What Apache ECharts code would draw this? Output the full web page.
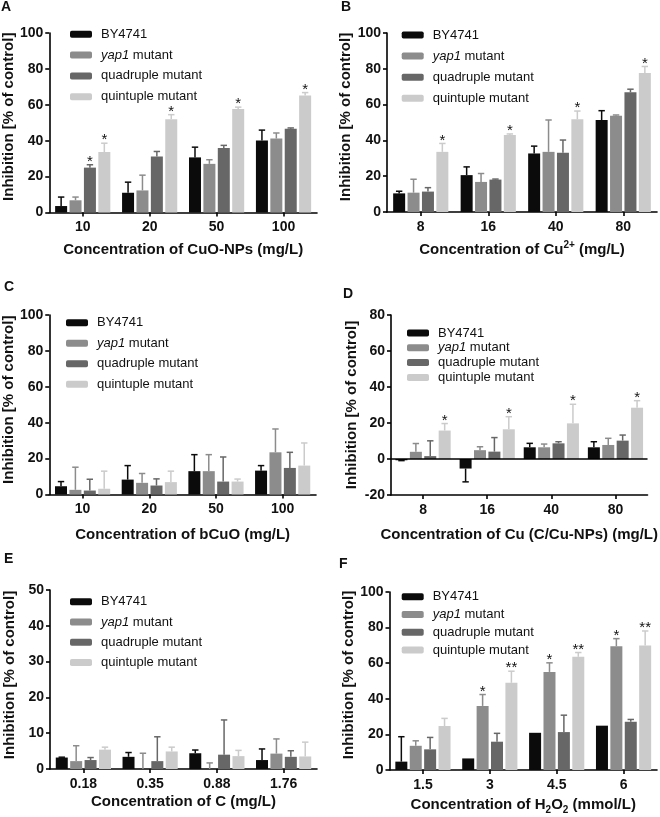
<!DOCTYPE html>
<html><head><meta charset="utf-8">
<script src="https://cdn.jsdelivr.net/npm/echarts@6/dist/echarts.min.js"></script>
<style>html,body{margin:0;padding:0;background:#fff}#c{width:660px;height:817px}</style>
</head><body><div id="c"></div>
<script>
const FONT = '"Liberation Sans", Arial, sans-serif';
const seriesNames = ['BY4741', 'yap1 mutant', 'quadruple mutant', 'quintuple mutant'];
const colors = ['#0b0b0b', '#8c8c8c', '#676767', '#cbcbcb'];

// Panel A: CuO-NPs
const catsA = ['10', '20', '50', '100'];
const meansA = [[3.6, 11, 30.7, 40.1], [6.8, 12.3, 27.1, 41.2], [25, 31.2, 35.9, 46.6], [33.7, 52, 57.6, 65.2]];
const errsA = [[5, 5.9, 5.7, 5.8], [1.8, 8.5, 2.3, 3.1], [1.6, 2.8, 1.5, 0.5], [4.9, 2.5, 1.1, 1.6]];
const starsA = [['', '', '', ''], ['', '', '', ''], ['*', '', '', ''], ['*', '*', '*', '*']];

// Panel B: Cu2+
const catsB = ['8', '16', '40', '80'];
const meansB = [[10.4, 20.6, 32.7, 51.4], [10.8, 16.8, 33.6, 53.8], [11.4, 18.1, 33.1, 66.9], [33.6, 43, 51.8, 77.6]];
const errsB = [[1.2, 4.6, 4.1, 5.2], [7.5, 4.7, 17.8, 0.4], [2.2, 0.3, 7.1, 1.7], [4.7, 0.6, 4.6, 3.7]];
const starsB = [['', '', '', ''], ['', '', '', ''], ['', '', '', ''], ['*', '*', '*', '*']];

// Panel C: bCuO
const catsC = ['10', '20', '50', '100'];
const meansC = [[4.6, 8.3, 13, 13.3], [2.6, 6.5, 13, 23.5], [2.2, 5, 7.2, 14.8], [3.2, 6.9, 7.2, 16.1]];
const errsC = [[2.6, 7.8, 9.2, 2.8], [12.6, 5.2, 9.2, 13], [6.3, 3.7, 13.7, 8.7], [9.8, 6.1, 1.4, 12.6]];
const starsC = [['', '', '', ''], ['', '', '', ''], ['', '', '', ''], ['', '', '', '']];

// Panel D: Cu (C/Cu-NPs)
const catsD = ['8', '16', '40', '80'];
const meansD = [[-0.7, -5.3, 6.5, 6.5], [4, 4.9, 6.5, 7.8], [1.6, 4.1, 8.7, 10.2], [15.8, 16.5, 19.8, 28.5]];
const errsD = [[0.2, 7.4, 2.2, 3.1], [4.6, 1.9, 1.8, 3.7], [8.5, 7.8, 0.9, 3.1], [3.9, 7, 10.6, 3.9]];
const starsD = [['', '', '', ''], ['', '', '', ''], ['', '', '', ''], ['*', '*', '*', '*']];

// Panel E: C
const catsE = ['0.18', '0.35', '0.88', '1.76'];
const meansE = [[3.2, 3.4, 4.4, 2.5], [2.2, 0, 0, 4.3], [2.5, 2.2, 4, 3.4], [5.4, 4.9, 3.6, 3.5]];
const errsE = [[0.1, 1.2, 0.9, 3.1], [4.3, 4.4, 1.7, 4.1], [0.7, 6.8, 9.7, 1.7], [0.7, 1.2, 1.6, 4]];
const starsE = [['', '', '', ''], ['', '', '', ''], ['', '', '', ''], ['', '', '', '']];

// Panel F: H2O2
const catsF = ['1.5', '3', '4.5', '6'];
const meansF = [[4.7, 6.5, 20.9, 24.9], [13.6, 36, 55.1, 69.5], [11.6, 15.9, 21.3, 27.1], [24.7, 49, 63.6, 69.9]];
const errsF = [[14, 0, 0, 0], [2.8, 6.4, 5.1, 4.3], [6.7, 4.7, 9.5, 1.3], [4.3, 6.5, 2.4, 8.2]];
const starsF = [['', '', '', ''], ['', '*', '*', '*'], ['', '', '', ''], ['', '**', '**', '**']];

const panels = [
  { letter: 'A', cats: catsA, means: meansA, errs: errsA, stars: starsA,
    grid: { left: 46.5, top: 33, width: 270.5, height: 179.5 }, y: [0, 100, 20],
    xName: 'Concentration of CuO-NPs (mg/L)', xNameGap: 27, yNameGap: 30, yPad: 12,
    lg: { left: 70, top: 27.3, gap: 6.8 }, lt: { left: 1, top: 0 } },
  { letter: 'B', cats: catsB, means: meansB, errs: errsB, stars: starsB,
    grid: { left: 387, top: 33, width: 270, height: 179 }, y: [0, 100, 20],
    xName: 'Concentration of Cu{sup|2+} (mg/L)', xNameGap: 28, yNameGap: 29, yPad: 11,
    lg: { left: 401.7, top: 28, gap: 7.1 }, lt: { left: 341, top: 0.5 } },
  { letter: 'C', cats: catsC, means: meansC, errs: errsC, stars: starsC,
    grid: { left: 46, top: 315, width: 270, height: 179.5 }, y: [0, 100, 20],
    xName: 'Concentration of bCuO (mg/L)', xNameGap: 30, yNameGap: 30, yPad: 10,
    lg: { left: 66, top: 315.7, gap: 6.5 }, lt: { left: 4, top: 280.5 } },
  { letter: 'D', cats: catsD, means: meansD, errs: errsD, stars: starsD,
    grid: { left: 391, top: 315, width: 267, height: 180 }, y: [-20, 80, 20],
    xName: 'Concentration of Cu (C/Cu-NPs) (mg/L)', xNameGap: 30, yNameGap: 32, yPad: 0,
    lg: { left: 407, top: 326, gap: 0.8 }, lt: { left: 343, top: 287.5 } },
  { letter: 'E', cats: catsE, means: meansE, errs: errsE, stars: starsE,
    grid: { left: 50, top: 590, width: 267, height: 179 }, y: [0, 50, 10],
    xName: 'Concentration of C (mg/L)', xNameGap: 20.5, yNameGap: 33, yPad: 9,
    lg: { left: 70, top: 594.7, gap: 6.3 }, lt: { left: 4, top: 552.5 } },
  { letter: 'F', cats: catsF, means: meansF, errs: errsF, stars: starsF,
    grid: { left: 389.5, top: 592, width: 267.5, height: 178 }, y: [0, 100, 20],
    xName: 'Concentration of H{sub|2}O{sub|2} (mmol/L)', xNameGap: 25, yNameGap: 31, yPad: 12,
    lg: { left: 401.7, top: 589.7, gap: 3.8 }, lt: { left: 339, top: 557.5 } }
];

const BAR_W = 12, GAP = 0.2, PITCH = BAR_W * (1 + GAP);
const axisLineStyle = { color: '#000', width: 1.6 };
const grids = [], xAxes = [], yAxes = [], series = [], legends = [], titles = [];

panels.forEach((p, i) => {
  grids.push(Object.assign({ containLabel: false }, p.grid));
  xAxes.push({
    type: 'category', gridIndex: i, data: p.cats, boundaryGap: true,
    axisLine: { show: true, onZero: false, lineStyle: axisLineStyle },
    axisTick: { show: true, alignWithLabel: true, length: 4, lineStyle: axisLineStyle },
    axisLabel: { margin: 8, fontSize: 14, fontWeight: 'bold', color: '#111', fontFamily: FONT },
    splitLine: { show: false },
    name: p.xName, nameLocation: 'middle', nameGap: p.xNameGap,
    nameTextStyle: {
      fontSize: 15, fontWeight: 'bold', color: '#111', fontFamily: FONT, lineHeight: 20,
      rich: {
        sup: { fontSize: 10, fontWeight: 'bold', fontFamily: FONT, color: '#111', verticalAlign: 'top', lineHeight: 10 },
        sub: { fontSize: 10, fontWeight: 'bold', fontFamily: FONT, color: '#111', verticalAlign: 'bottom', lineHeight: 12 }
      }
    }
  });
  yAxes.push({
    type: 'value', gridIndex: i, min: p.y[0], max: p.y[1], interval: p.y[2],
    axisLine: { show: true, lineStyle: axisLineStyle },
    axisTick: { show: true, inside: false, length: 4, lineStyle: axisLineStyle },
    axisLabel: { margin: 6, fontSize: 14, fontWeight: 'bold', color: '#111', fontFamily: FONT },
    splitLine: { show: false },
    name: 'Inhibition [% of control]', nameLocation: 'middle', nameGap: p.yNameGap,
    nameTextStyle: { fontSize: 15, fontWeight: 'bold', color: '#111', fontFamily: FONT, padding: [0, 0, 0, p.yPad] }
  });
  seriesNames.forEach((n, s) => {
    const ser = {
      type: 'bar', name: n, xAxisIndex: i, yAxisIndex: i, data: p.means[s],
      barWidth: BAR_W, barGap: (GAP * 100) + '%', itemStyle: { color: colors[s] },
      silent: true, animation: false
    };
    if (p.y[0] < 0 && s === 0) {
      ser.markLine = {
        silent: true, symbol: 'none', animation: false,
        label: { show: false },
        lineStyle: { color: '#000', width: 1.6, type: 'solid' },
        data: [{ yAxis: 0 }]
      };
    }
    series.push(ser);
  });
  const items = [];
  p.cats.forEach((c, ci) => {
    seriesNames.forEach((n, s) => {
      items.push({ ci, s, m: p.means[s][ci], e: p.errs[s][ci], star: p.stars[s][ci] });
    });
  });
  series.push({
    type: 'custom', name: 'err' + i, xAxisIndex: i, yAxisIndex: i, z: 5, silent: true, animation: false,
    data: items.map(d => [d.ci, d.m, d.s]),
    encode: { x: 0, y: 1 },
    renderItem: function (params, api) {
      const d = items[params.dataIndex];
      const base = api.coord([d.ci, d.m]);
      const x = base[0] + (d.s - 1.5) * PITCH;
      const yTop = base[1];
      const endVal = d.m + (d.m < 0 ? -d.e : d.e);
      const yErr = api.coord([d.ci, endVal])[1];
      const col = colors[d.s];
      const children = [];
      if (d.e > 0) {
        children.push({ type: 'line', shape: { x1: x, y1: yTop, x2: x, y2: yErr }, style: { stroke: col, lineWidth: 1.5 } });
        children.push({ type: 'line', shape: { x1: x - 3.2, y1: yErr, x2: x + 3.2, y2: yErr }, style: { stroke: col, lineWidth: 1.5 } });
      }
      if (d.star) {
        children.push({ type: 'text', style: { text: d.star, x: x, y: yErr - 3, align: 'center', verticalAlign: 'middle', font: '15px ' + FONT, fill: '#111' } });
      }
      return { type: 'group', children };
    }
  });
  legends.push({
    data: seriesNames, orient: 'vertical', left: p.lg.left, top: p.lg.top, itemGap: p.lg.gap,
    itemWidth: 22, itemHeight: 7, icon: 'roundRect', padding: 0, selectedMode: false,
    formatter: n => n === 'yap1 mutant' ? '{i|yap1} mutant' : n,
    textStyle: {
      fontSize: 13, fontFamily: FONT, color: '#111', lineHeight: 14, padding: [0, 0, 0, 4],
      rich: { i: { fontStyle: 'italic', fontSize: 13, fontFamily: FONT, color: '#111', lineHeight: 14 } }
    }
  });
  titles.push({ text: p.letter, left: p.lt.left, top: p.lt.top, padding: 0,
    textStyle: { fontSize: 14, fontWeight: 'bold', color: '#111', fontFamily: FONT } });
});

const chart = echarts.init(document.getElementById('c'), null, { renderer: 'canvas' });
chart.setOption({
  backgroundColor: '#fff', animation: false,
  title: titles, legend: legends, grid: grids, xAxis: xAxes, yAxis: yAxes, series
});
</script></body></html>
